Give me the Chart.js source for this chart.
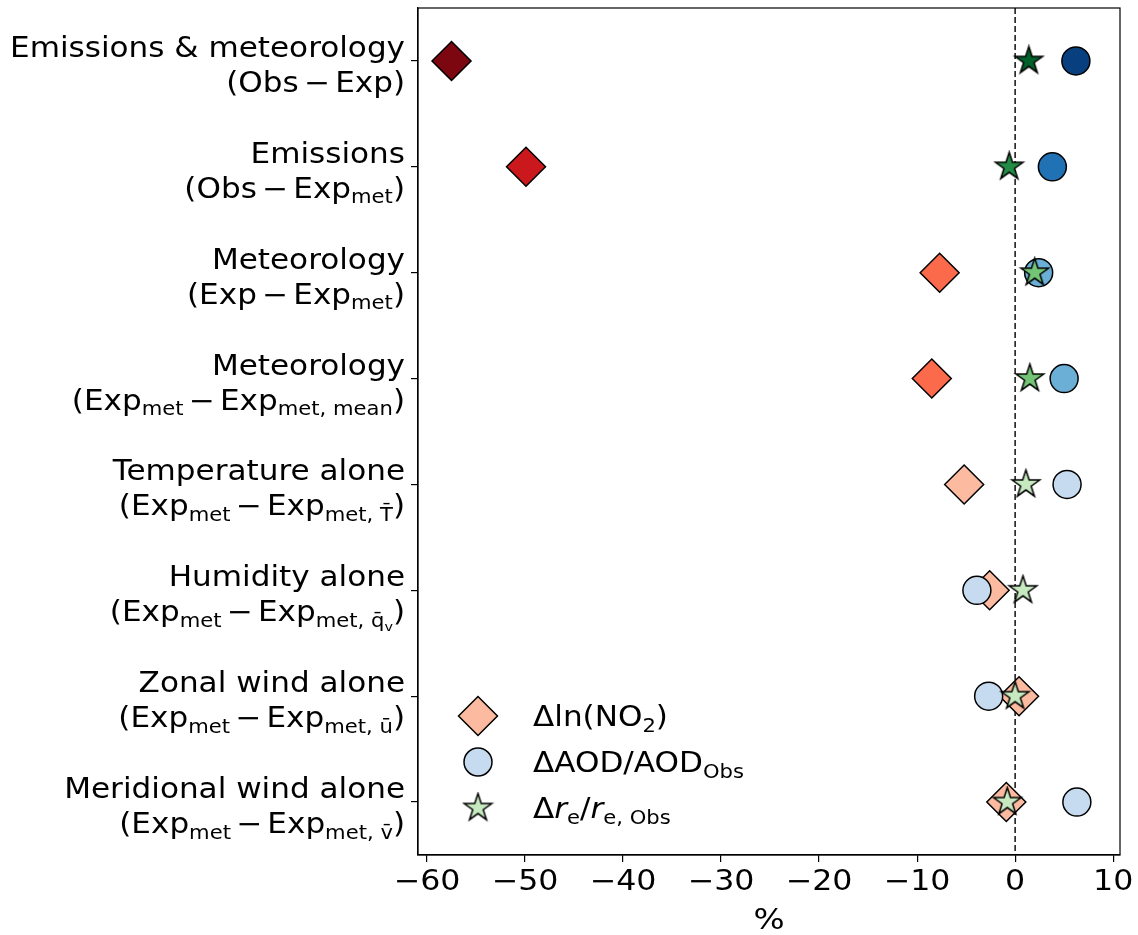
<!DOCTYPE html>
<html>
<head>
<meta charset="utf-8">
<script src="https://cdn.jsdelivr.net/npm/chart.js@4"></script>
<style>
html, body { margin: 0; padding: 0; background: #fff; }
</style>
</head>
<body>
<canvas id="chart" width="1138" height="935"></canvas>
<script>
// category labels (two lines each, _{..} = subscript, $..$ = italic)
const M = '\u2006\u2212\u2006'; // minus with narrow spaces, like mathtext
const categories = [
  ['Emissions & meteorology', '(Obs' + M + 'Exp)'],
  ['Emissions', '(Obs' + M + 'Exp_{met})'],
  ['Meteorology', '(Exp' + M + 'Exp_{met})'],
  ['Meteorology', '(Exp_{met}' + M + 'Exp_{met, mean})'],
  ['Temperature alone', '(Exp_{met}' + M + 'Exp_{met, T\u0304})'],
  ['Humidity alone', '(Exp_{met}' + M + 'Exp_{met, q\u0304_{v}})'],
  ['Zonal wind alone', '(Exp_{met}' + M + 'Exp_{met, u\u0304})'],
  ['Meridional wind alone', '(Exp_{met}' + M + 'Exp_{met, v\u0304})']
];

// values in %
const no2Change = [-57.5, -49.9, -7.7, -8.5, -5.2, -2.6, 0.4, -0.9];
const aodChange = [6.2, 3.8, 2.4, 5.0, 5.3, -3.9, -2.7, 6.3];
const reChange = [1.4, -0.6, 2.0, 1.5, 1.1, 0.8, 0.0, -0.8];

const seriesNames = ['\u0394ln(NO_{2})', '\u0394AOD/AOD_{Obs}', '\u0394$r$_{e}/$r$_{e, Obs}'];
const xTicks = [-60, -50, -40, -30, -20, -10, 0, 10];
const xTitle = '%';

const redShades = ['#7d0711', '#cb181d', '#fb6a4a', '#fb6a4a', '#fcbba1', '#fcbba1', '#fcbba1', '#fcbba1'];
const blueShades = ['#08407f', '#2171b5', '#6baed6', '#6baed6', '#c6dbef', '#c6dbef', '#c6dbef', '#c6dbef'];
const greenShades = ['#00602a', '#238b45', '#74c476', '#74c476', '#c7e9c0', '#c7e9c0', '#c7e9c0', '#c7e9c0'];

const FONT = '"DejaVu Sans"';
const TEXT_SIZE = 27.5;
const SUB = 0.68;
const STRETCH = 1.13; // text in the original is a bit wider than tall

function parseRich(str) {
  const segs = [];
  let level = 0, italic = false, buf = '';
  const flush = () => { if (buf) segs.push({ t: buf, level, italic }); buf = ''; };
  for (let i = 0; i < str.length; i++) {
    const c = str[i];
    if (c === '_' && str[i + 1] === '{') { flush(); level++; i++; }
    else if (c === '}' && level > 0) { flush(); level--; }
    else if (c === '$') { flush(); italic = !italic; }
    else buf += c;
  }
  flush();
  return segs;
}

function drawRich(ctx, str, x, y, size, align) {
  const segs = parseRich(str);
  const fontFor = s => (s.italic ? 'italic ' : '') + (size * Math.pow(SUB, s.level)).toFixed(1) + 'px ' + FONT;
  let total = 0;
  segs.forEach(s => { ctx.font = fontFor(s); s.w = ctx.measureText(s.t).width; total += s.w; });
  let start = x;
  if (align === 'right') start = x - total * STRETCH;
  else if (align === 'center') start = x - total * STRETCH / 2;
  ctx.save();
  ctx.translate(start, y);
  ctx.scale(STRETCH, 1);
  ctx.textAlign = 'left';
  ctx.textBaseline = 'alphabetic';
  let cx = 0;
  segs.forEach(s => {
    let dy = 0;
    for (let l = 0; l < s.level; l++) dy += size * 0.2 * Math.pow(SUB, l);
    ctx.font = fontFor(s);
    ctx.fillText(s.t, cx, dy);
    cx += s.w;
  });
  ctx.restore();
}

function starImage(fill, r) {
  const c = document.createElement('canvas');
  const s = Math.ceil(2 * r + 4);
  c.width = s; c.height = s;
  const g = c.getContext('2d');
  g.beginPath();
  for (let k = 0; k < 10; k++) {
    const rad = k % 2 ? r * 0.382 : r;
    const a = -Math.PI / 2 + k * Math.PI / 5;
    const px = s / 2 + rad * Math.cos(a), py = s / 2 + rad * Math.sin(a);
    if (k) g.lineTo(px, py); else g.moveTo(px, py);
  }
  g.closePath();
  g.fillStyle = fill;
  g.fill();
  g.lineWidth = 1.5;
  g.strokeStyle = '#000';
  g.stroke();
  return c;
}

const STAR_R = 14.5;
const starStyles = greenShades.map(c => starImage(c, STAR_R));
const legendStar = starImage(greenShades[7], STAR_R);

// frame, zero line, labels, legend
const decorPlugin = {
  id: 'decor',
  beforeDatasetsDraw(chart) {
    const { ctx, chartArea: a, scales } = chart;
    const x0 = scales.x.getPixelForValue(0);
    ctx.save();
    ctx.strokeStyle = '#000';
    ctx.lineWidth = 1.4;
    ctx.setLineDash([6, 3]);
    ctx.beginPath();
    ctx.moveTo(x0, a.top);
    ctx.lineTo(x0, a.bottom);
    ctx.stroke();
    ctx.setLineDash([]);
    ctx.lineWidth = 1.2;
    ctx.strokeRect(a.left, a.top, a.right - a.left, a.bottom - a.top);
    ctx.restore();
  },
  afterDraw(chart) {
    const { ctx, chartArea: a, scales } = chart;
    ctx.save();
    ctx.fillStyle = '#000';
    categories.forEach((lines, i) => {
      const y = scales.y.getPixelForValue(i);
      drawRich(ctx, lines[0], a.left - 13, y - 4, TEXT_SIZE, 'right');
      drawRich(ctx, lines[1], a.left - 13, y + 31, TEXT_SIZE, 'right');
    });

    // x tick labels and title
    xTicks.forEach(v => {
      const t = v < 0 ? '\u2212' + Math.abs(v) : String(v);
      drawRich(ctx, t, scales.x.getPixelForValue(v), a.bottom + 35, 28, 'center');
    });
    drawRich(ctx, xTitle, (a.left + a.right) / 2, a.bottom + 74, 29, 'center');

    // legend
    const lx = a.left + 60, tx = a.left + 115;
    const ly = [a.bottom - 139, a.bottom - 93, a.bottom - 47];
    ctx.lineWidth = 1.5;
    ctx.strokeStyle = '#000';
    ctx.beginPath();
    ctx.moveTo(lx - 19.5, ly[0]); ctx.lineTo(lx, ly[0] - 19.5);
    ctx.lineTo(lx + 19.5, ly[0]); ctx.lineTo(lx, ly[0] + 19.5);
    ctx.closePath();
    ctx.fillStyle = redShades[7]; ctx.fill(); ctx.stroke();
    ctx.beginPath();
    ctx.arc(lx, ly[1], 14, 0, Math.PI * 2);
    ctx.fillStyle = blueShades[7]; ctx.fill(); ctx.stroke();
    ctx.drawImage(legendStar, lx - legendStar.width / 2, ly[2] - legendStar.height / 2);
    ctx.fillStyle = '#000';
    seriesNames.forEach((n, i) => drawRich(ctx, n, tx, ly[i] + 10, TEXT_SIZE, 'left'));
    ctx.restore();
  }
};

const toPoints = vals => vals.map((v, i) => ({ x: v, y: i }));

new Chart(document.getElementById('chart'), {
  type: 'scatter',
  data: {
    datasets: [
      {
        label: 'NO2',
        data: toPoints(no2Change),
        pointStyle: 'rectRot',
        pointRadius: 19.5,
        backgroundColor: redShades,
        borderColor: '#000',
        borderWidth: 1.5,
        order: 3
      },
      {
        label: 'AOD',
        data: toPoints(aodChange),
        pointStyle: 'circle',
        pointRadius: 14,
        backgroundColor: blueShades,
        borderColor: '#000',
        borderWidth: 1.5,
        order: 2
      },
      {
        label: 're',
        data: toPoints(reChange),
        pointStyle: starStyles,
        pointRadius: STAR_R,
        order: 1
      }
    ]
  },
  options: {
    responsive: false,
    animation: false,
    events: [],
    layout: { autoPadding: false, padding: { top: 8, right: 18, left: 0, bottom: 0 } },
    plugins: { legend: { display: false }, tooltip: { enabled: false } },
    scales: {
      x: {
        type: 'linear',
        min: -60.92,
        max: 10.7,
        afterBuildTicks: s => { s.ticks = xTicks.map(v => ({ value: v })); },
        afterFit: s => { s.height = 80; },
        ticks: { display: false },
        grid: { drawOnChartArea: false, drawTicks: true, tickLength: 7, color: '#000', lineWidth: 1.2 },
        border: { display: true, color: '#000', width: 1.2 }
      },
      y: {
        type: 'linear',
        reverse: true,
        min: -0.5,
        max: 7.5,
        afterBuildTicks: s => { s.ticks = categories.map((_, i) => ({ value: i })); },
        afterFit: s => { s.width = 418; },
        ticks: { display: false },
        grid: { drawOnChartArea: false, drawTicks: true, tickLength: 7, color: '#000', lineWidth: 1.2 },
        border: { display: true, color: '#000', width: 1.2 }
      }
    }
  },
  plugins: [decorPlugin]
});
</script>
</body>
</html>
